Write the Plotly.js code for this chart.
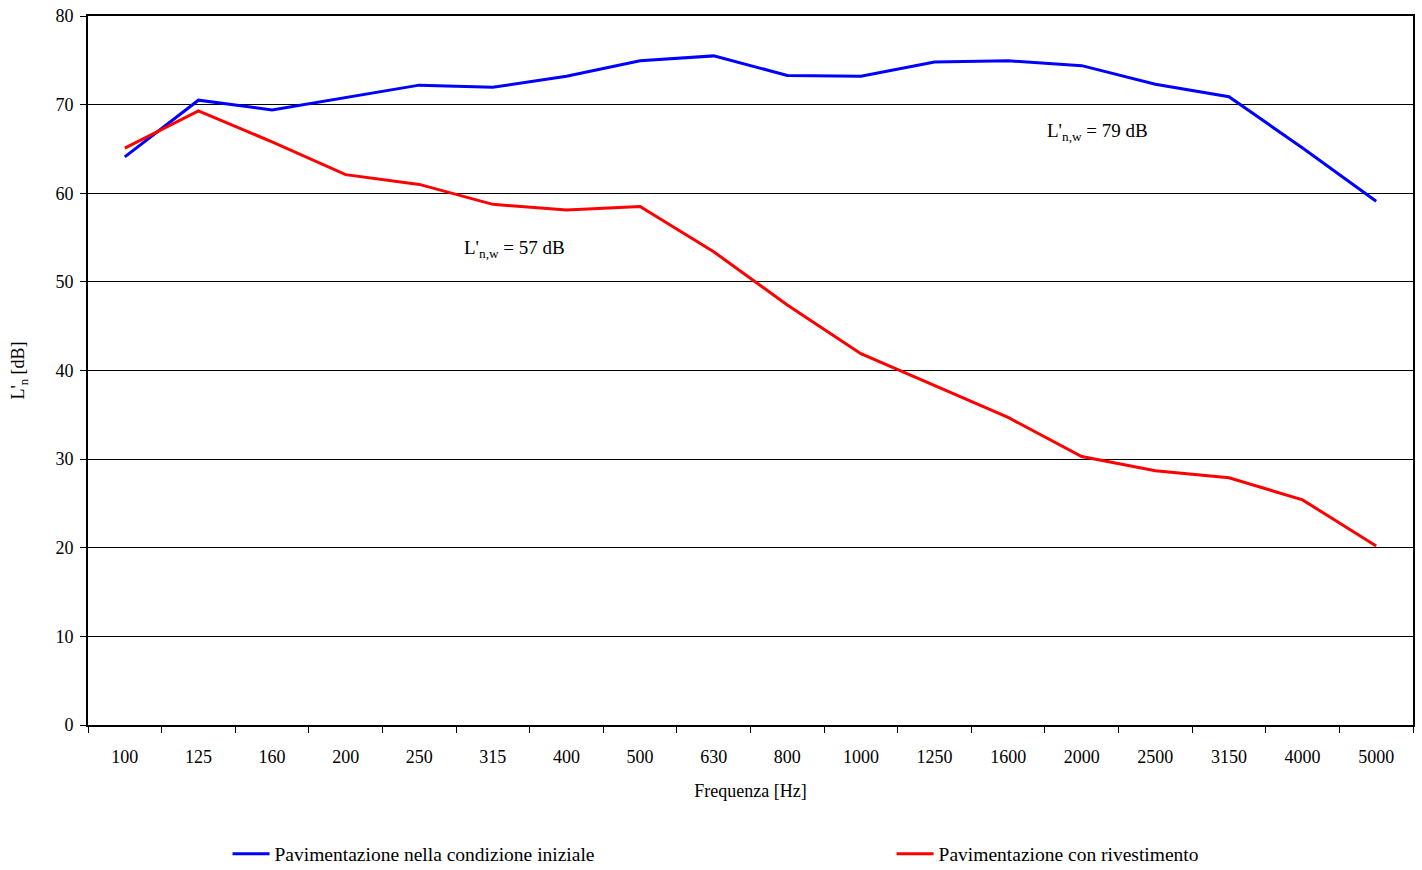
<!DOCTYPE html>
<html>
<head>
<meta charset="utf-8">
<script src="https://cdn.plot.ly/plotly-3.0.1.min.js"></script>
<style>html,body{margin:0;padding:0;background:#fff;}#chart{width:1422px;height:870px;}</style>
</head>
<body>
<div id="chart"></div>
<script>
const frequencies = ["100","125","160","200","250","315","400","500","630","800","1000","1250","1600","2000","2500","3150","4000","5000"];
const initialValues = [64.1, 70.5, 69.4, 70.8, 72.2, 71.95, 73.2, 74.95, 75.5, 73.3, 73.2, 74.8, 74.95, 74.4, 72.3, 70.9, 65.1, 59.1];
const coatedValues = [65.1, 69.3, 65.8, 62.1, 61.0, 58.75, 58.1, 58.5, 53.4, 47.4, 41.9, 38.3, 34.7, 30.3, 28.7, 27.9, 25.4, 20.2];
const seriesNames = ["Pavimentazione nella condizione iniziale", "Pavimentazione con rivestimento"];
const annotationTexts = ["L'<sub>n,w</sub> = 79 dB", "L'<sub>n,w</sub> = 57 dB"];

const font = "Liberation Serif, Times New Roman, serif";

const data = [
  {x: frequencies, y: initialValues, type: 'scatter', mode: 'lines', name: seriesNames[0],
   line: {color: '#0000FF', width: 3}, legend: 'legend'},
  {x: frequencies, y: coatedValues, type: 'scatter', mode: 'lines', name: seriesNames[1],
   line: {color: '#FF0000', width: 3}, legend: 'legend2'}
];

const legendFont = {family: font, size: 19.5, color: '#000'};

const layout = {
  width: 1422, height: 870,
  margin: {l: 88, r: 9, t: 16, b: 145},
  paper_bgcolor: '#fff', plot_bgcolor: '#fff',
  font: {family: font, size: 18, color: '#000'},
  showlegend: true,
  legend: {orientation: 'h', xref: 'container', yref: 'container', x: 0.160, xanchor: 'left',
           y: 0.0184, yanchor: 'middle', font: legendFont, bgcolor: 'rgba(0,0,0,0)', itemwidth: 37},
  legend2: {orientation: 'h', xref: 'container', yref: 'container', x: 0.627, xanchor: 'left',
           y: 0.0184, yanchor: 'middle', font: legendFont, bgcolor: 'rgba(0,0,0,0)', itemwidth: 37},
  xaxis: {
    type: 'category', tickson: 'boundaries', ticks: 'outside', ticklen: 6, tickcolor: '#000',
    showline: true, linecolor: '#000', linewidth: 2, mirror: true, automargin: false,
    showgrid: false, zeroline: false, ticklabelstandoff: 14,
    tickfont: {family: font, size: 18, color: '#000'},
    title: {text: 'Frequenza [Hz]', font: {family: font, size: 18, color: '#000'}, standoff: 19},
    range: [-0.5, 17.5]
  },
  yaxis: {
    range: [0, 80], dtick: 10, ticks: 'outside', ticklen: 6, tickcolor: '#000',
    showline: true, linecolor: '#000', linewidth: 2, mirror: true, automargin: false,
    showgrid: true, gridcolor: '#000', gridwidth: 1, zeroline: false, ticklabelstandoff: 3,
    tickfont: {family: font, size: 18, color: '#000'},
    title: {text: "L'<sub>n</sub> [dB]", font: {family: font, size: 18, color: '#000'}, standoff: 26}
  },
  annotations: [
    {x: 13.22, y: 66.9, xref: 'x', yref: 'y', text: annotationTexts[0], showarrow: false,
     font: {family: font, size: 19, color: '#000'}},
    {x: 5.29, y: 53.7, xref: 'x', yref: 'y', text: annotationTexts[1], showarrow: false,
     font: {family: font, size: 19, color: '#000'}}
  ]
};

Plotly.newPlot('chart', data, layout, {displayModeBar: false, responsive: false});
</script>
</body>
</html>
